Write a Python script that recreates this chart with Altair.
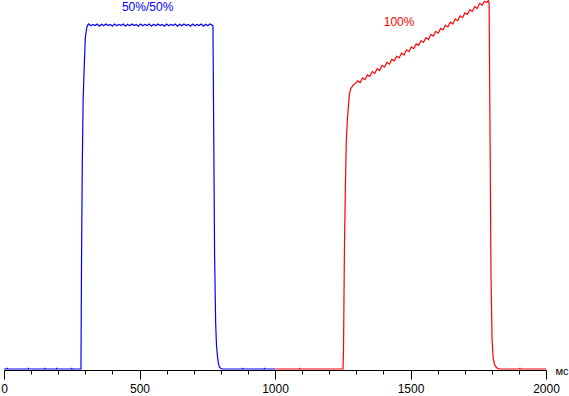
import altair as alt
import pandas as pd

# ---- data ----
blue_t = [0, 11, 12, 13, 89, 90, 91, 150, 151, 152, 193, 194, 195, 249, 250, 251,
          284, 286, 289, 292, 296, 300, 305, 309,
          312, 320, 328, 336, 344, 352, 360, 368, 376, 384,
          392, 400, 408, 416, 424, 432, 440, 448, 456, 464,
          472, 480, 488, 496, 504, 512, 520, 528, 536, 544,
          552, 560, 568, 576, 584, 592, 600, 608, 616, 624,
          632, 640, 648, 656, 664, 672, 680, 688, 696, 704,
          712, 720, 728, 736, 744, 752, 760, 768,
          771, 774, 777, 781, 784, 788, 791, 795, 803, 880, 881, 882, 960, 961, 962, 1000]
blue_v = [0, 0, 0.3, 0, 0, 0.3, 0, 0, 0.3, 0, 0, 0.3, 0, 0, 0.3, 0,
          0, 28.7, 56.1, 72.9, 81.8, 89.7, 92.4, 93.2,
          93.5, 93.0, 93.4, 93.1, 93.5, 92.9, 93.4, 93.0, 93.5, 93.1,
          93.4, 92.9, 93.5, 93.0, 93.4, 93.1, 93.5, 92.9, 93.4, 93.0,
          93.5, 93.1, 93.4, 92.9, 93.5, 93.0, 93.4, 93.1, 93.5, 92.9,
          93.4, 93.0, 93.5, 93.1, 93.4, 92.9, 93.5, 93.0, 93.4, 93.1,
          93.5, 92.9, 93.4, 93.0, 93.5, 93.1, 93.4, 92.9, 93.5, 93.0,
          93.4, 93.1, 93.5, 92.9, 93.4, 93.0, 93.5, 93.2,
          93.1, 63.4, 31.4, 12.5, 6.5, 3.3, 1.6, 0.5, 0, 0, 0.3, 0, 0, 0.3, 0, 0]

red_t = [1000, 1090, 1091, 1092, 1251, 1253, 1256, 1260, 1263, 1267, 1271, 1274, 1279, 1289, 1297,
         1305, 1314, 1323, 1332, 1341, 1350, 1359, 1368, 1377, 1386,
         1395, 1404, 1413, 1422, 1431, 1440, 1449, 1458, 1467, 1476,
         1485, 1494, 1503, 1512, 1521, 1530, 1539, 1548, 1557, 1566,
         1575, 1584, 1593, 1602, 1611, 1620, 1629, 1638, 1647, 1656,
         1665, 1674, 1683, 1692, 1701, 1710, 1719, 1728, 1737, 1746,
         1755, 1764, 1773, 1782,
         1787, 1790, 1794, 1797, 1801, 1805, 1810, 1818, 1826, 1903, 1904, 1905, 2000]
red_v = [0, 0, 0.3, 0, 0, 6.0, 31.4, 50.7, 61.5, 67.5, 71.3, 74.3, 75.9, 77.0, 77.4,
         78.1, 77.6, 78.9, 78.4, 79.7, 79.3, 80.6, 80.1, 81.4, 80.9,
         82.3, 81.8, 83.1, 82.6, 83.9, 83.5, 84.8, 84.3, 85.6, 85.1,
         86.5, 86.0, 87.3, 86.8, 88.1, 87.7, 89.0, 88.5, 89.8, 89.3,
         90.7, 90.2, 91.5, 91.0, 92.3, 91.9, 93.2, 92.7, 94.0, 93.5,
         94.9, 94.4, 95.7, 95.2, 96.5, 96.1, 97.4, 96.9, 98.2, 97.7,
         99.1, 98.6, 99.6, 99.4,
         99.8, 99.3, 58.9, 25.5, 7.9, 3.0, 1.2, 0.3, 0, 0, 0.3, 0, 0]

series_names = ["50%/50%", "100%"]
series_colors = ["#0000FF", "#FF0000"]
label_t = [530, 1458]
label_v = [98.0, 94.0]
x_ticks = [0, 100, 200, 300, 400, 500, 600, 700, 800, 900, 1000,
           1100, 1200, 1300, 1400, 1500, 1600, 1700, 1800, 1900, 2000]

rows = [{"s": series_names[0], "t": t, "v": v} for t, v in zip(blue_t, blue_v)]
rows += [{"s": series_names[1], "t": t, "v": v} for t, v in zip(red_t, red_v)]
df = pd.DataFrame(rows)
labels = pd.DataFrame({"s": series_names, "t": label_t, "v": label_v})

xscale = alt.Scale(domain=[0, 2000], nice=False, zero=False)
yscale = alt.Scale(domain=[-0.27, 100], nice=False, zero=False)
cscale = alt.Scale(domain=series_names, range=series_colors)

xaxis = alt.Axis(
    values=x_ticks,
    format="d",
    labelExpr="datum.value % 500 === 0 ? format(datum.value, 'd') : ''",
    tickSize={"condition": {"test": "datum.value % 500 === 0", "value": 9}, "value": 4},
    tickColor="black", domainColor="black", tickWidth=1, domainWidth=1,
    labelColor="black", labelFont="Liberation Sans", labelFontSize=12,
    labelPadding=4, labelFlush=False, labelOverlap=False, labelBound=False, grid=False,
    title="мс", titleFont="Liberation Sans", titleFontSize=11, titleFontWeight="normal",
    titleColor="black", titleX=551, titleY=4, titleAlign="left",
    titleBaseline="alphabetic", titleAnchor="start",
)

lines = alt.Chart(df).mark_line(strokeWidth=1.2, interpolate="linear").encode(
    x=alt.X("t:Q", scale=xscale, axis=xaxis),
    y=alt.Y("v:Q", scale=yscale, axis=None),
    color=alt.Color("s:N", scale=cscale, legend=None),
    detail="s:N",
)

texts = alt.Chart(labels).mark_text(
    font="Liberation Sans", fontSize=12, align="center", baseline="middle"
).encode(
    x=alt.X("t:Q", scale=xscale, axis=xaxis),
    y=alt.Y("v:Q", scale=yscale, axis=None),
    text="s:N",
    color=alt.Color("s:N", scale=cscale, legend=None),
)

chart = (lines + texts).properties(
    width=542, height=370,
    autosize=alt.AutoSizeParams(type="none"),
    padding={"left": 4, "top": 0, "right": 23, "bottom": 26},
    background="white",
).configure_view(strokeWidth=0)

chart.save("out.html", embed_options={"renderer": "svg", "actions": False})
